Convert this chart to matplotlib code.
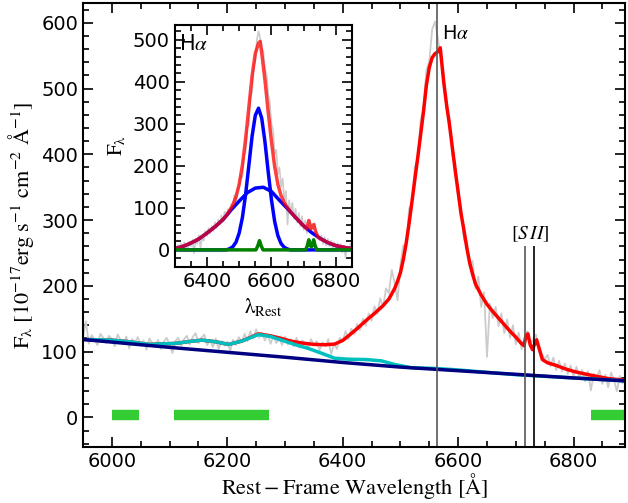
import numpy as np
import matplotlib.pyplot as plt
from matplotlib.ticker import MultipleLocator

plt.rcParams['mathtext.fontset'] = 'stix'
plt.rcParams['font.family'] = 'DejaVu Sans'

# observed spectrum, sampled every 5 A from 5950 A
spec_start, spec_step = 5950, 5
spec_flux = [122, 146, 112, 125, 118, 110, 127, 121, 113, 124, 119, 108, 126, 118, 111, 123, 105, 119, 114, 122,
             109, 117, 103, 120, 113, 108, 118, 104, 115, 121,
             110, 98, 116, 121, 109, 119, 124, 111, 122, 128, 113, 121, 126, 110, 118, 107, 120, 104, 116, 109,
             115, 101, 118, 110, 122, 114, 127, 116, 131, 120, 134, 121, 129, 117, 126, 112, 124, 113, 121, 110,
             123, 111, 119, 108, 121, 106, 117, 113, 104, 119, 110, 116, 102, 114, 108, 119, 96, 112, 104, 121,
             116, 131, 119, 135, 126, 142, 133, 150, 139, 158, 147, 169, 158, 181, 168, 196, 189, 224, 205, 178,
             232, 262, 258, 318, 326, 381, 392, 452, 470, 528, 541, 590, 602, 575, 548, 522, 468, 455, 398, 389,
             332, 322, 270, 268, 229, 238, 196, 214, 168, 190, 92, 173, 151, 168, 139, 158, 128, 149, 121, 140,
             111, 129, 104, 122, 131, 112, 118, 126, 103, 96, 89, 95, 78, 91, 72, 86, 70, 82, 66, 79,
             62, 77, 59, 72, 55, 70, 41, 66, 58, 72, 51, 65, 46, 68, 57, 40, 63, 52, 60]

# total model (main panel)
red_wl = [5950, 6000, 6030, 6064, 6110, 6135, 6156, 6180, 6202, 6225, 6254, 6275, 6294, 6310, 6330, 6350, 6370,
          6386, 6400, 6410, 6425, 6440, 6455, 6470, 6480, 6490, 6495, 6500, 6505, 6510, 6515, 6520, 6525, 6530,
          6535, 6540, 6545, 6550, 6555, 6560, 6565, 6569, 6575, 6580, 6585, 6590, 6595, 6600, 6605, 6610, 6615,
          6620, 6625, 6630, 6640, 6650, 6660, 6670, 6680, 6690, 6700, 6710, 6714, 6718, 6721, 6725, 6729, 6733,
          6736, 6740, 6746, 6755, 6770, 6785, 6800, 6820, 6840, 6860, 6890]
red_flux = [118.5, 117.5, 115, 111, 112.5, 115.5, 117.5, 115, 111, 116, 127, 124, 120, 116, 113, 111, 110.5,
            111.5, 117, 124, 135, 147, 158, 170, 180, 196, 207, 220, 240, 265, 295, 328, 362, 395,
            430, 465, 505, 532, 547, 553, 556, 562, 510, 475, 445, 410, 375, 343, 310, 285, 258,
            235, 218, 203, 186, 172, 161, 151, 141, 131, 122, 112, 109, 125, 127, 110, 103, 113,
            118, 106, 88, 83, 79, 74, 70, 66, 62.5, 59, 56.5]

# continuum + FeII
cyan_wl = [5950, 6000, 6030, 6064, 6110, 6135, 6156, 6180, 6202, 6225, 6254, 6275, 6294, 6320, 6340, 6365,
           6386, 6410, 6440, 6467, 6490, 6519, 6560, 6600, 6650, 6700, 6800, 6890]
cyan_flux = [118.5, 117.5, 115, 111, 112.5, 115.5, 117.5, 115, 111, 116, 126, 123, 117.5, 110, 105, 97,
             90, 88.5, 88, 86, 80.5, 75.5, 74.5, 72.2, 68.5, 65, 60, 55.5]

# power-law continuum
cont_wl = [5950, 6000, 6100, 6200, 6300, 6400, 6500, 6600, 6700, 6800, 6890]
cont_flux = [118.5, 114.5, 106.5, 99, 91.5, 83.5, 76.5, 71, 65.5, 60, 55.5]

# fitting windows
win_start = [6000, 6108, 6830]
win_end = [6047, 6272, 6890]

# inset: continuum subtracted spectrum, 5 A from 6300 A
sub_start = 6300
sub_flux = [8, -2, 12, 3, 15, 2, 18, 7, -3, 20, 9, 24, -8, 22, 14, 35, 6, 30, 22, 45,
            33, 52, 38, 57, 45, 66, 52, 72, 61, 82, 68, 91, 79, 97, 85, 109, 98, 130, 111, 141,
            150, 178, 172, 228, 230, 290, 297, 365, 375, 440, 448, 500, 520, 505, 480, 472, 432, 418, 370, 352,
            300, 286, 228, 238, 180, 196, 150, 170, 118, 140, 60, 118, 88, 112, 74, 98, 65, 88, 56, 80,
            48, 70, 40, 62, 70, 48, 55, 64, 38, 30, 22, 34, 14, 30, 10, 26, 8, 22, 2, 18,
            0, 16, -2, 14, -6, 10, -18, 8, -4, 14, -8]

narrow_wl = [6300, 6460, 6470, 6480, 6490, 6500, 6510, 6520, 6530, 6540, 6550, 6560, 6570, 6580, 6590,
             6600, 6610, 6620, 6630, 6640, 6650, 6660, 6850]
narrow_flux = [0, 0, 2.6, 7.2, 18, 40, 77, 132, 201, 270, 320, 337, 313, 257, 186,
               120, 68, 34, 15, 6, 2, 0, 0]

broad_wl = [6300, 6325, 6350, 6375, 6400, 6425, 6450, 6475, 6500, 6525, 6550, 6575, 6600, 6625, 6650,
            6675, 6700, 6725, 6750, 6775, 6800, 6825, 6850]
broad_flux = [3, 8, 16, 26, 40, 55, 72, 95, 116, 136, 147, 149, 139, 118, 98,
              77, 57, 41, 28, 17, 10, 6, 3]

fit_wl = [6300, 6320, 6340, 6360, 6380, 6400, 6420, 6440, 6460, 6470, 6480, 6490, 6500, 6510, 6520, 6530,
          6540, 6550, 6560, 6565, 6570, 6580, 6590, 6600, 6610, 6620, 6630, 6640, 6650, 6660, 6670, 6680,
          6690, 6700, 6710, 6716, 6722, 6731, 6737, 6745, 6760, 6780, 6800, 6820, 6850]
fit_flux = [3, 7, 13, 20, 29, 40, 52, 65, 81, 93, 106, 126, 156, 201, 264, 339,
            413, 467, 492, 496, 468, 404, 329, 259, 199, 156, 129, 112, 100, 90, 81, 73,
            65, 57, 50, 70, 50, 60, 44, 30, 23, 16, 10, 7, 3]

nl_wl = [6300, 6552, 6558, 6563, 6568, 6574, 6706, 6711, 6716, 6721, 6724, 6726, 6731, 6736, 6741, 6850]
nl_flux = [0, 0, 10, 22, 10, 0, 0, 9, 24, 10, 7, 10, 24, 9, 0, 0]

spec_wl = spec_start + spec_step * np.arange(len(spec_flux))
sub_wl = sub_start + spec_step * np.arange(len(sub_flux))

fig = plt.figure(figsize=(6.28, 5.03), dpi=100)
ax = fig.add_axes([0.1322, 0.1113, 0.8638, 0.8827])

ax.plot(spec_wl, spec_flux, color='0.8', lw=1.3)
ax.plot(red_wl, red_flux, color='red', lw=2.5)
ax.plot(cyan_wl, cyan_flux, color='c', lw=2.5)
ax.plot(cont_wl, cont_flux, color='navy', lw=2.5)
for s, e in zip(win_start, win_end):
    ax.plot([s, e], [3, 3], color='#33cc33', lw=7.5, solid_capstyle='butt')

ax.axvline(6563, color='0.35', lw=1.2)
ax.vlines([6716, 6731], -45, 260, colors=['0.35', 'k'], lw=1.2)
ax.text(6572, 584, r'H$\alpha$', fontsize=14, va='center')
ax.text(6724, 279, r'$[S\,II]$', fontsize=14, ha='center', va='center')

ax.set_xlim(5950, 6890)
ax.set_ylim(-45, 630)
ax.xaxis.set_major_locator(MultipleLocator(200))
ax.xaxis.set_minor_locator(MultipleLocator(50))
ax.yaxis.set_major_locator(MultipleLocator(100))
ax.yaxis.set_minor_locator(MultipleLocator(20))
ax.tick_params(which='both', direction='in', top=True, right=True, labelsize=14, width=1.2)
ax.tick_params(which='major', length=7)
ax.tick_params(which='minor', length=4)
for sp in ax.spines.values():
    sp.set_linewidth(1.5)
ax.set_xlabel(r'$\rm Rest-Frame\ Wavelength\ [\AA]$', fontsize=16, labelpad=0)
ax.set_ylabel(r'$\rm F_{\lambda}\ [10^{-17} erg\ s^{-1}\ cm^{-2}\ \AA^{-1}]$', fontsize=16)

ins = fig.add_axes([0.2782, 0.4698, 0.2823, 0.4805])
ins.plot(sub_wl, sub_flux, color='0.8', lw=1.2)
ins.plot(narrow_wl, narrow_flux, color='blue', lw=2.5)
ins.plot(broad_wl, broad_flux, color='blue', lw=2.5)
ins.plot(fit_wl, fit_flux, color='red', lw=2.5, alpha=0.75)
ins.plot(nl_wl, nl_flux, color='green', lw=2.5)
ins.text(6312, 490, r'H$\alpha$', fontsize=15, va='center')

ins.set_xlim(6300, 6850)
ins.set_ylim(-40, 535)
ins.xaxis.set_major_locator(MultipleLocator(200))
ins.xaxis.set_minor_locator(MultipleLocator(50))
ins.yaxis.set_major_locator(MultipleLocator(100))
ins.yaxis.set_minor_locator(MultipleLocator(20))
ins.tick_params(which='both', direction='in', top=True, right=True, labelsize=14, width=1.2)
ins.tick_params(which='major', length=7)
ins.tick_params(which='minor', length=4)
for sp in ins.spines.values():
    sp.set_linewidth(1.5)
ins.set_xlabel(r'$\rm \lambda_{Rest}$', fontsize=15)
ins.set_ylabel(r'$\rm F_{\lambda}$', fontsize=15)

fig.savefig('out.png', dpi=100)
